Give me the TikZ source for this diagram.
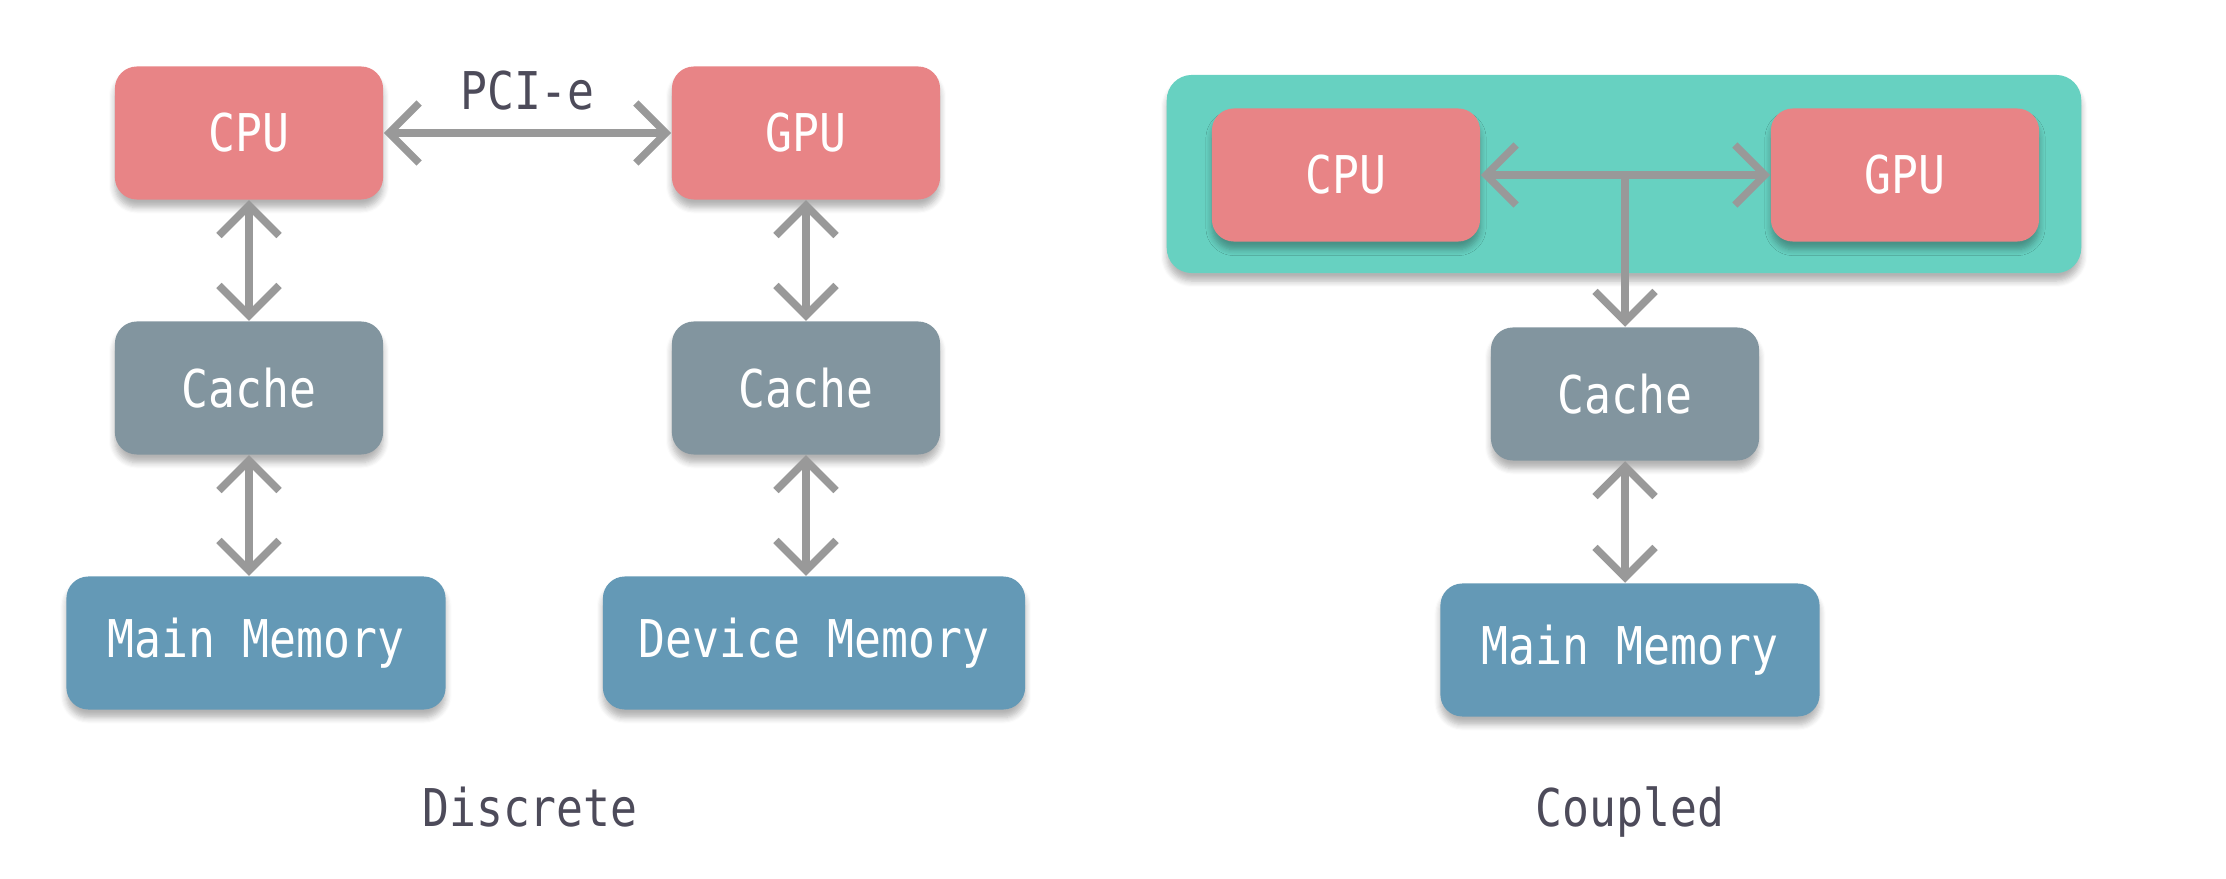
\documentclass[tikz,border=0pt]{standalone}
\usepackage{fontspec}
\setmonofont[FakeStretch=0.86]{DejaVu Sans Mono}
\usetikzlibrary{arrows.meta,shadows.blur}
\definecolor{cpured}{HTML}{E88486}
\definecolor{cachegray}{HTML}{82959F}
\definecolor{memblue}{HTML}{6499B6}
\definecolor{soclteal}{HTML}{67D1C1}
\definecolor{linkgray}{HTML}{999999}
\definecolor{labelgray}{HTML}{4D4B5A}
\tikzset{>={Straight Barb[length=0.3cm,width=0.6cm]}}
\begin{document}
\begin{tikzpicture}[x=0.01cm,y=-0.01cm]
\tikzstyle{every node}+=[font=\ttfamily\fontsize{14.8}{18}\selectfont]
\tikzstyle{unit}=[rounded corners=0.22cm, minimum width=2.68cm, minimum height=1.33cm, text=white, blur shadow={shadow xshift=0pt, shadow yshift=-0.08cm, shadow blur steps=6, shadow opacity=30}]
\tikzstyle{link}=[draw=linkgray, line width=0.075cm]
\useasboundingbox (0,0) rectangle (2226,879);
\node [unit, fill=cpured] (cpu) at (249,133) {CPU};
\node [unit, fill=cpured] (gpu) at (806,133) {GPU};
\node [unit, fill=cachegray] (cache) at (249,388) {Cache};
\node [unit, fill=cachegray] (gcache) at (806,388) {Cache};
\node [unit, fill=memblue, minimum width=3.79cm] (mainmem) at (256,643) {Main Memory};
\node [unit, fill=memblue, minimum width=4.22cm] (devmem) at (814,643) {Device Memory};
\draw [link, <->] (cpu) -- (gpu) node [midway, above=0.07cm, text=labelgray] (pcie) {PCI-e};
\draw [link, <->] (cpu) -- (cache);
\draw [link, <->] (gpu) -- (gcache);
\draw [link, <->] (cache.south) -- (cache.south |- mainmem.north);
\draw [link, <->] (gcache.south) -- (gcache.south |- devmem.north);
\node [text=labelgray, anchor=base] (discrete) at (530,826) {Discrete};
\node [unit, fill=soclteal, minimum width=9.14cm, minimum height=1.98cm, rounded corners=0.25cm] (soc) at (1624,174) {};
\node [unit, fill=cpured] (ccpu) at (1346,175) {CPU};
\node [unit, fill=cpured] (cgpu) at (1905,175) {GPU};
\node [unit, fill=cachegray] (ccache) at (1625,394) {Cache};
\node [unit, fill=memblue, minimum width=3.79cm] (cmainmem) at (1630,650) {Main Memory};
\coordinate (joint) at (1625,175);
\draw [link, <->] (ccpu) -- (cgpu);
\draw [link, ->] (joint) -- (ccache);
\draw [link, <->] (ccache.south) -- (ccache.south |- cmainmem.north);
\node [text=labelgray, anchor=base] (coupled) at (1630,826) {Coupled};
\end{tikzpicture}
\end{document}
